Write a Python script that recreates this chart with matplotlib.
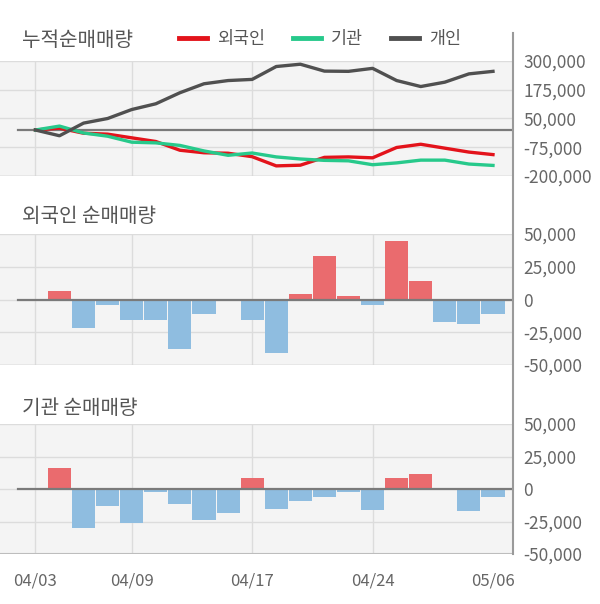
import matplotlib
matplotlib.use("Agg")
import matplotlib.pyplot as plt
from matplotlib.lines import Line2D
import numpy as np

plt.rcParams["font.family"] = ["Noto Sans CJK KR", "DejaVu Sans"]

# %% data
dates = ["04/03", "04/06", "04/07", "04/08", "04/09", "04/10", "04/13", "04/14",
         "04/16", "04/17", "04/20", "04/21", "04/22", "04/23", "04/24", "04/27",
         "04/28", "04/29", "05/04", "05/06"]
date_ticks = ["04/03", "04/09", "04/17", "04/24", "05/06"]

# daily net buying (shares)
foreign_daily = [0, 6500, -21500, -4000, -15500, -16000, -37500, -11000, -1500, -15500,
                 -40500, 4000, 33500, 2500, -4000, 45000, 14000, -17000, -18500, -11000]
inst_daily = [0, 16000, -30000, -13000, -26000, -2500, -11500, -24000, -18500, 8500,
              -15500, -9500, -6500, -2500, -16500, 8500, 11500, 0, -17000, -6500]

# cumulative net buying (shares)
foreign_cum = [0, 8000, -14000, -18000, -34000, -50000, -88000, -99000, -101000, -116000,
               -156000, -153000, -119000, -117000, -121000, -76000, -62000, -79000, -96000, -107000]
inst_cum = [0, 17000, -13000, -27000, -53000, -56000, -67000, -91000, -110000, -100000,
            -117000, -126000, -132000, -134000, -151000, -143000, -131000, -131000, -148000, -154000]
indiv_cum = [0, -25000, 30000, 50000, 89000, 114000, 162000, 201000, 215000, 220000,
             276000, 286000, 256000, 255000, 268000, 215000, 189000, 208000, 244000, 255000]

top_ticks = [-200000, -75000, 50000, 175000, 300000]
bar_ticks = [-50000, -25000, 0, 25000, 50000]

# %% styles
W, H = 600, 604
RED = "#e3131b"
GREEN = "#27c98b"
GRAY = "#505050"
BAR_RED = "#ea6b6e"
BAR_BLUE = "#8fbde0"
BG = "#f4f4f4"
GRID = "#dcdcdc"
TXT = "#555555"

x = np.arange(len(dates))
xlim = (-1.47, 19.81)
vgrid = [dates.index(d) for d in date_ticks[:-1]]


def rect(top, bottom, left=0, right=512.5):
    return [left / W, 1 - bottom / H, (right - left) / W, (bottom - top) / H]


def style_axis(ax, ticks, show_x=False):
    ax.set_facecolor(BG)
    ax.set_xlim(*xlim)
    ax.set_ylim(ticks[0], ticks[-1])
    for s in ax.spines.values():
        s.set_visible(False)
    for t in ticks:
        ax.axhline(t, color=GRID, lw=1, zorder=0)
    for v in vgrid:
        ax.axvline(v, color=GRID, lw=1, zorder=0)
    ax.yaxis.tick_right()
    ax.set_yticks(ticks)
    ax.set_yticklabels([f"{t:,}" for t in ticks])
    ax.tick_params(axis="y", length=0, pad=8, labelsize=12.5, labelcolor="#666666")
    if show_x:
        ax.set_xticks([dates.index(d) for d in date_ticks])
        ax.set_xticklabels(date_ticks)
        ax.tick_params(axis="x", length=0, pad=13, labelsize=12, labelcolor="#666666")
    else:
        ax.set_xticks([])
    ax.plot([-0.72, xlim[1]], [0, 0], color="#7a7a7a", lw=1.6, zorder=3)


fig = plt.figure(figsize=(W / 100, H / 100), dpi=100)

# %% cumulative lines
ax1 = fig.add_axes(rect(61, 176))
style_axis(ax1, top_ticks)
ax1.axhline(-200000, color="#c8c8c8", lw=1, zorder=1)
l1, = ax1.plot(x, foreign_cum, color=RED, lw=2.4, label="외국인", zorder=4)
l2, = ax1.plot(x, inst_cum, color=GREEN, lw=2.4, label="기관", zorder=4)
l3, = ax1.plot(x, indiv_cum, color=GRAY, lw=2.4, label="개인", zorder=5)
fig.text(22 / W, 1 - 41 / H, "누적순매매량", fontsize=14.5, color=TXT, va="center")
leg = fig.legend(handles=[l1, l2, l3], loc="center", bbox_to_anchor=(320 / W, 1 - 39 / H),
                 ncol=3, frameon=False, fontsize=12.5, handlelength=1.6, handletextpad=0.6,
                 columnspacing=1.6, labelcolor=TXT)
for h in leg.get_lines():
    h.set_linewidth(3.5)

# %% foreign daily bars
ax2 = fig.add_axes(rect(234, 365))
style_axis(ax2, bar_ticks)
ax2.axhline(-50000, color="#c8c8c8", lw=1, zorder=1)
ax2.bar(x[1:], foreign_daily[1:], width=0.96,
        color=[BAR_RED if v > 0 else BAR_BLUE for v in foreign_daily[1:]], zorder=2)
fig.text(22 / W, 1 - 217 / H, "외국인 순매매량", fontsize=14.5, color=TXT, va="center")

# %% institution daily bars
ax3 = fig.add_axes(rect(424, 554))
style_axis(ax3, bar_ticks, show_x=True)
ax3.axhline(-50000, color="#bdbdbd", lw=1.5, zorder=1)
ax3.bar(x[1:], inst_daily[1:], width=0.96,
        color=[BAR_RED if v > 0 else BAR_BLUE for v in inst_daily[1:]], zorder=2)
fig.text(22 / W, 1 - 409 / H, "기관 순매매량", fontsize=14.5, color=TXT, va="center")

# right-hand axis line running through all panels
fig.add_artist(Line2D([512.5 / W, 512.5 / W], [1 - 33 / H, 1 - 554 / H],
                      color="#9a9a9a", lw=1.5, transform=fig.transFigure))

fig.savefig("out.png", dpi=100)
